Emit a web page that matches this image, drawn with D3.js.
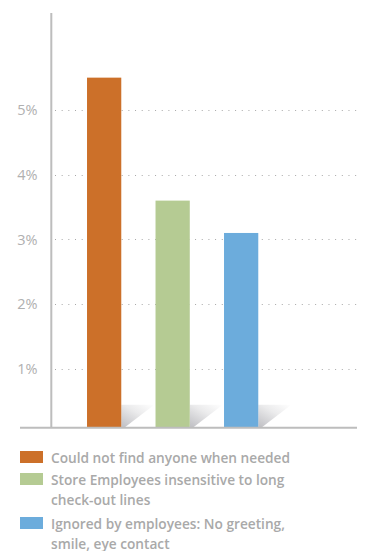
<!DOCTYPE html>
<html>
<head>
<meta charset="utf-8">
<script src="https://cdn.jsdelivr.net/npm/d3@7"></script>
<style>
  html, body { margin: 0; padding: 0; background: #fff; }
  svg { display: block; }
  text { font-family: "Open Sans", "DejaVu Sans", sans-serif; }
</style>
</head>
<body>
<svg id="chart" width="367" height="551"></svg>
<script>
// Survey reasons, values in percent
const categories = [
  "Could not find anyone when needed",
  "Store Employees insensitive to long check-out lines",
  "Ignored by employees: No greeting, smile, eye contact"
];
const values = [5.5, 3.6, 3.1];
const colors = ["#cc7029", "#b5cb93", "#6cacdc"];
const tickValues = [1, 2, 3, 4, 5];
const tickLabels = ["1%", "2%", "3%", "4%", "5%"];
// Legend text, wrapped as shown
const legendLines = [
  ["Could not find anyone when needed"],
  ["Store Employees insensitive to long", "check-out lines"],
  ["Ignored by employees: No greeting,", "smile, eye contact"]
];

const svg = d3.select("#chart");
const axisColor = "#bdbdbd";
const textColor = "#a9a9a9";

const baseY = 427.8;       // floor line
const axisX = 51.3;        // vertical axis line
const gridRight = 357;

const y = d3.scaleLinear().domain([0, 5]).range([433.6, 110]);
const x = d3.scaleBand().domain(categories).range([69.9, 275.4])
  .paddingInner(0.5).paddingOuter(0.25);

// gradient used for the floor shadows
const defs = svg.append("defs");
const grad = defs.append("linearGradient").attr("id", "shadowGrad")
  .attr("x1", 1).attr("y1", 0).attr("x2", 0.15).attr("y2", 1);
grad.append("stop").attr("offset", 0).attr("stop-color", "#ffffff");
grad.append("stop").attr("offset", 0.45).attr("stop-color", "#ebebec");
grad.append("stop").attr("offset", 1).attr("stop-color", "#c3c3c7");

// dotted gridlines with tick labels
const grid = svg.append("g");
grid.selectAll("line").data(tickValues).join("line")
  .attr("x1", 55).attr("x2", gridRight)
  .attr("y1", d => Math.round(y(d)) + 0.5).attr("y2", d => Math.round(y(d)) + 0.5)
  .attr("stroke", "#a8a8a8").attr("stroke-width", 1)
  .attr("stroke-dasharray", "1,5.67");
grid.selectAll("text").data(tickValues).join("text")
  .attr("x", 37.5).attr("y", d => y(d))
  .attr("dy", "0.36em")
  .attr("text-anchor", "end")
  .attr("font-size", 14.5)
  .attr("fill", "#b0b0b0")
  .text((d, i) => tickLabels[i]);

// floor shadows
svg.append("g").selectAll("path").data(categories).join("path")
  .attr("d", d => {
    const r = x(d) + x.bandwidth();
    const top = baseY - 23;
    return `M${r},${top} L${r + 33},${top} L${r + 3},${baseY} L${r},${baseY} Z`;
  })
  .attr("fill", "url(#shadowGrad)");

// bars
svg.append("g").selectAll("rect").data(categories).join("rect")
  .attr("x", d => x(d))
  .attr("width", x.bandwidth())
  .attr("y", (d, i) => y(values[i]))
  .attr("height", (d, i) => baseY - y(values[i]))
  .attr("fill", (d, i) => colors[i]);

// axes lines
svg.append("line")
  .attr("x1", axisX).attr("x2", axisX).attr("y1", 13).attr("y2", baseY)
  .attr("stroke", axisColor).attr("stroke-width", 2);
svg.append("line")
  .attr("x1", 20).attr("x2", gridRight).attr("y1", baseY).attr("y2", baseY)
  .attr("stroke", axisColor).attr("stroke-width", 2);

// legend
const legendBaselines = [463, 485, 529];
const legend = svg.append("g");
categories.forEach((c, i) => {
  const by = legendBaselines[i];
  legend.append("rect")
    .attr("x", 20).attr("y", by - 12).attr("width", 23).attr("height", 12)
    .attr("fill", colors[i]);
  const t = legend.append("text")
    .attr("x", 51).attr("y", by)
    .attr("font-size", 13.7)
    .attr("font-weight", 600)
    .attr("fill", textColor);
  legendLines[i].forEach((line, j) => {
    t.append("tspan").attr("x", 51).attr("y", by + j * 19.5).text(line);
  });
});
</script>
</body>
</html>
